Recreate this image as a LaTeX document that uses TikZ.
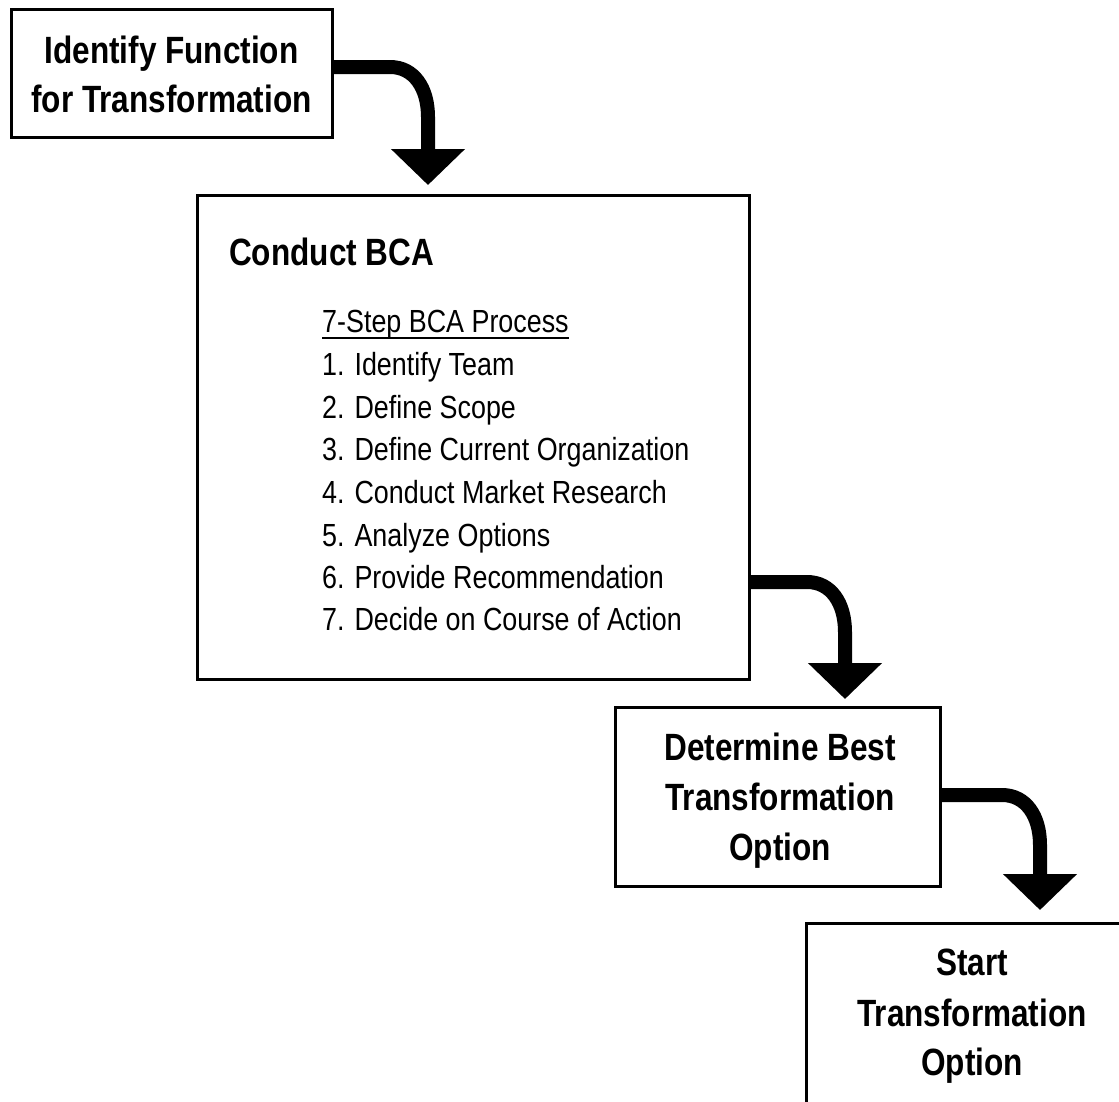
\documentclass[tikz,border=0pt]{standalone}
\usepackage{fontspec}
\setmainfont{Liberation Sans}
\newfontfamily\ttlfont[FakeStretch=0.83]{Liberation Sans}
\newfontfamily\lstfont[FakeStretch=0.84]{Liberation Sans}
\usetikzlibrary{arrows.meta}
\newcommand\ulbox[1]{\setbox0=\hbox{#1}\rlap{\rule[-6.5pt]{\wd0}{2pt}}\box0}
\begin{document}
\begin{tikzpicture}[x=1pt,y=-1pt,
  box/.style={draw,line width=3pt,rectangle,inner sep=0pt},
  ttl/.style={font=\ttlfont\bfseries\fontsize{38}{44}\selectfont,anchor=base,inner sep=0pt},
  lst/.style={font=\lstfont\fontsize{32}{38}\selectfont,anchor=base west,inner sep=0pt},
  flow/.style={line width=14pt,-{Triangle[width=72pt,length=36pt]}}]
\useasboundingbox (0,0) rectangle (1119,1101);
\clip (0,0) rectangle (1119,1101);

% boxes
\node[box,minimum width=321pt,minimum height=128pt] (b1) at (171.5,73) {};
\node[box,minimum width=552pt,minimum height=484pt] (b2) at (473,437) {};
\node[box,minimum width=325pt,minimum height=179pt] (b3) at (777.5,796.5) {};
\node[box,minimum width=334pt,minimum height=220pt] (b4) at (973,1033) {};

% box 1 text
\node[ttl] (b1a) at (171.5,63) {Identify Function};
\node[ttl] (b1b) at (171.5,112) {for Transformation};

% box 2 text
\node[ttl,anchor=base west] (b2t) at (229,265) {Conduct BCA};
\node[lst] (b2h) at (322,332) {\ulbox{7-Step BCA Process}};
\node[lst] (b2s1) at (322,375) {1. Identify Team};
\node[lst] (b2s2) at (322,418) {2. Define Scope};
\node[lst] (b2s3) at (322,460) {3. Define Current Organization};
\node[lst] (b2s4) at (322,503) {4. Conduct Market Research};
\node[lst] (b2s5) at (322,546) {5. Analyze Options};
\node[lst] (b2s6) at (322,588) {6. Provide Recommendation};
\node[lst] (b2s7) at (322,630) {7. Decide on Course of Action};

% box 3 text
\node[ttl] (b3a) at (780,760) {Determine Best};
\node[ttl] (b3b) at (780,810) {Transformation};
\node[ttl] (b3c) at (780,860) {Option};

% box 4 text
\node[ttl] (b4a) at (972,975) {Start};
\node[ttl] (b4b) at (972,1026) {Transformation};
\node[ttl] (b4c) at (972,1075) {Option};

% connectors
\path (b1.east) ++(0,-6) coordinate (s1);
\coordinate (t1) at (428,185);
\draw[flow] (s1) -- (390,67) .. controls (414,67) and (428,88) .. (428,117) -- (t1);

\path (b2.east) ++(0,145) coordinate (s2);
\coordinate (t2) at (845,699);
\draw[flow] (s2) -- (807,582) .. controls (831,582) and (845,603) .. (845,632) -- (t2);

\path (b3.east) ++(0,-1.5) coordinate (s3);
\coordinate (t3) at (1040,910);
\draw[flow] (s3) -- (1002,795) .. controls (1026,795) and (1040,816) .. (1040,845) -- (t3);
\end{tikzpicture}
\end{document}
